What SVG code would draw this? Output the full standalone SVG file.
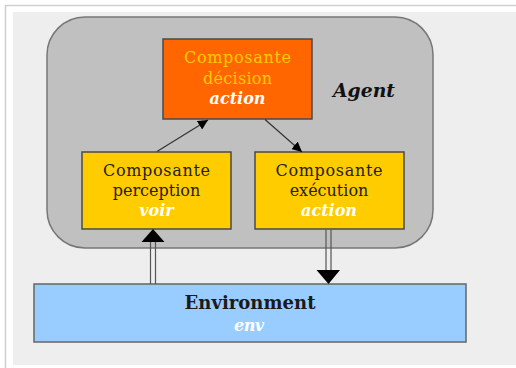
<svg xmlns="http://www.w3.org/2000/svg" width="516" height="368" viewBox="0 0 516 368">
  <defs>
    <marker id="ah" viewBox="0 0 10 10" refX="10" refY="5" markerWidth="10" markerHeight="10" markerUnits="userSpaceOnUse" orient="auto">
      <path d="M0,0 L10,5 L0,10 Z" fill="#000"/>
    </marker>
    <style>
      .t { font-family: "DejaVu Serif", "Liberation Serif", serif; font-size: 16px; text-anchor: middle; }
      .bi { font-weight: bold; font-style: italic; fill: #ffffff; }
      .box { stroke: #4a4a4a; stroke-width: 1.5; }
      .thin { stroke: #333; stroke-width: 1.2; fill: none; }
      .dbl { stroke: #555; stroke-width: 1.2; }
      .head { fill: #000; }
    </style>
  </defs>

  <!-- page background -->
  <rect x="0" y="0" width="516" height="368" fill="#ffffff"/>
  <line x1="5.5" y1="5" x2="5.5" y2="368" stroke="#cfcfcf" stroke-width="1.5"/>
  <line x1="5" y1="5.5" x2="516" y2="5.5" stroke="#cfcfcf" stroke-width="1.5"/>
  <rect x="13" y="12" width="503" height="353" fill="#eeeeee"/>

  <g id="agent">
    <rect x="47" y="17" width="386" height="231" rx="38" ry="38" fill="#c0c0c0" stroke="#777" stroke-width="1.5"/>
    <text class="t" x="364" y="97" font-weight="bold" font-style="italic" fill="#111" textLength="62" lengthAdjust="spacingAndGlyphs" style="font-size:19px">Agent</text>
  </g>

  <g id="decision">
    <rect class="box" x="163" y="39" width="149" height="80" fill="#ff6600"/>
    <text class="t" x="237.5" y="63" fill="#ffcc00" textLength="107">Composante</text>
    <text class="t" x="237.5" y="84" fill="#ffcc00" textLength="69">décision</text>
    <text class="t bi" x="237.5" y="104">action</text>
  </g>

  <g id="perception">
    <rect class="box" x="82" y="152" width="149" height="77" fill="#ffcc00"/>
    <text class="t" x="156.5" y="176" fill="#222" textLength="107">Composante</text>
    <text class="t" x="156.5" y="195.5" fill="#222">perception</text>
    <text class="t bi" x="156.5" y="216">voir</text>
  </g>

  <g id="execution">
    <rect class="box" x="255" y="152" width="149" height="77" fill="#ffcc00"/>
    <text class="t" x="329" y="176" fill="#222" textLength="107">Composante</text>
    <text class="t" x="329" y="196" fill="#222">exécution</text>
    <text class="t bi" x="329" y="216">action</text>
  </g>

  <g id="environment">
    <rect x="34" y="284" width="432" height="58" fill="#99ccff" stroke="#666" stroke-width="1.5"/>
    <text class="t" x="250" y="309" fill="#1a1a1a" font-weight="bold" style="font-size:18.5px" textLength="131" lengthAdjust="spacingAndGlyphs">Environment</text>
    <text class="t bi" x="249" y="331" textLength="30">env</text>
  </g>

  <g id="connectors">
    <line class="thin" x1="157" y1="151.5" x2="208" y2="120" marker-end="url(#ah)"/>
    <line class="thin" x1="265" y1="119.5" x2="302" y2="152" marker-end="url(#ah)"/>
    <!-- environment -> perception -->
    <line class="dbl" x1="150.5" y1="284" x2="150.5" y2="241"/>
    <line class="dbl" x1="155.5" y1="284" x2="155.5" y2="241"/>
    <polygon class="head" points="141.5,242 164.5,242 153,229"/>
    <!-- execution -> environment -->
    <line class="dbl" x1="326" y1="229.5" x2="326" y2="271"/>
    <line class="dbl" x1="331" y1="229.5" x2="331" y2="271"/>
    <polygon class="head" points="316.5,270 340,270 328.5,284"/>
  </g>
</svg>
